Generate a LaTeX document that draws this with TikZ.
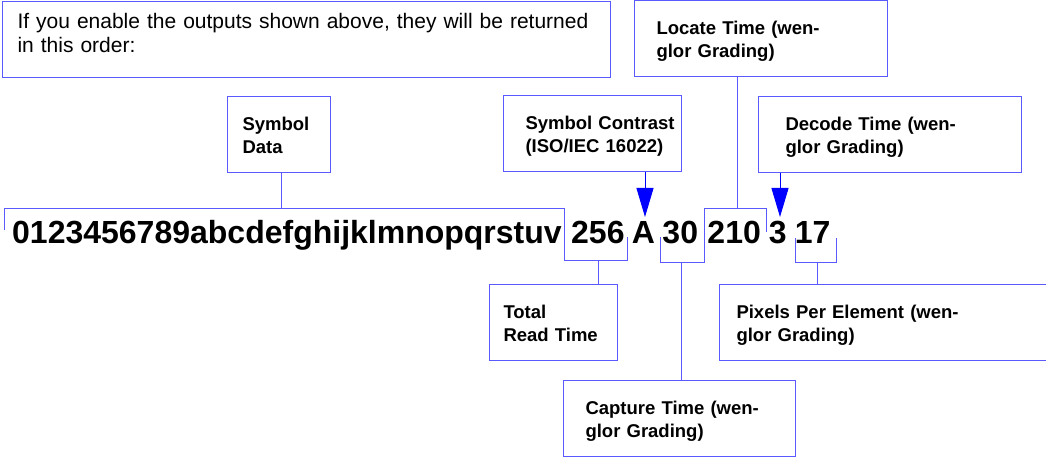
\documentclass[tikz,border=0pt]{standalone}
\usepackage{fontspec}
\setmainfont{Liberation Sans}
\usetikzlibrary{arrows.meta, positioning}
\definecolor{linkblue}{RGB}{90,90,255}
\definecolor{tipblue}{RGB}{0,0,255}
\hyphenpenalty=10000

\begin{document}
\begin{tikzpicture}[
    x=1pt, y=-1pt,
    every node/.style = {inner ysep=0pt},
    outbox/.style  = {draw=linkblue, line width=1pt, anchor=north west,
                      minimum height=76pt, align=left, inner xsep=0pt, text depth=21pt,
                      font=\fontsize{18.5}{23}\selectfont\bfseries},
    notebox/.style = {outbox, text depth=38pt, font=\fontsize{21}{24}\selectfont},
    token/.style   = {inner sep=0pt, font=\fontsize{32}{32}\selectfont\bfseries},
    link/.style    = {linkblue, line width=1pt},
    arr/.style     = {tipblue, line width=1pt, -{Triangle[length=29pt, width=17pt]}},
]
\useasboundingbox (0,0) rectangle (1046,457);

% Note at the top
\node[notebox, minimum width=608pt, text width=578pt] (note) at (2,1)
  {If you enable the outputs shown above, they will be returned\\in this order:};

% Output string
\node[token, anchor=base west] (tdata) at (12,243) {0123456789abcdefghijklmnopqrstuv};
\node[token, base right=9pt of tdata] (t256) {256};
\node[token, base right=7pt of t256] (tA) {A};
\node[token, base right=7pt of tA] (t30) {30};
\node[token, base right=9pt of t30] (t210) {210};
\node[token, base right=7.5pt of t210] (t3) {3};
\node[token, base right=8pt of t3] (t17) {17};

% Labels above
\node[outbox, minimum width=253pt, text width=209pt] (locate) at (634,0)
  {Locate Time (wen-\\glor Grading)};
\node[outbox, minimum width=103pt, text width=73pt] (data) at (227,96)
  {Symbol\\Data};
\node[outbox, minimum width=178pt, text width=134pt] (contrast) at (503,95)
  {Symbol~Contrast\\(ISO/IEC~16022)};
\node[outbox, minimum width=263pt, text width=209pt] (decode) at (758,96)
  {Decode Time (wen-\\glor Grading)};

% Labels below
\node[outbox, minimum width=128pt, text width=100pt] (total) at (489,284)
  {Total\\Read Time};
\node[outbox, minimum width=340pt, text width=306pt] (pixels) at (719,284)
  {Pixels Per Element (wen-\\glor Grading)};
\node[outbox, minimum width=232pt, text width=188pt] (capture) at (563,380)
  {Capture Time (wen-\\glor Grading)};

% Brackets round the fields
\coordinate (dataTick) at (281,208);
\coordinate (totalTick) at (598,260);
\coordinate (captureTick) at (681,262);
\coordinate (locateTick) at (737,208);
\coordinate (pixelsTick) at (817,262);
\coordinate (contrastTip) at (645,217);
\coordinate (decodeTip) at (780,217);

\draw[link] (4,230) |- (564,208) |- (627,260) -- (627,237);
\draw[link] (660,237) |- (704,262) |- (766,208) -- (766,232);
\draw[link] (795,238) |- (836,262) -- (836,238);

% Connectors
\draw[link] (dataTick |- data.south) -- (dataTick);
\draw[link] (locateTick |- locate.south) -- (locateTick);
\draw[link] (totalTick) -- (totalTick |- total.north);
\draw[link] (captureTick) -- (captureTick |- capture.north);
\draw[link] (pixelsTick) -- (pixelsTick |- pixels.north);
\draw[arr] (contrastTip |- contrast.south) -- (contrastTip);
\draw[arr] (decodeTip |- decode.south) -- (decodeTip);

\end{tikzpicture}
\end{document}
